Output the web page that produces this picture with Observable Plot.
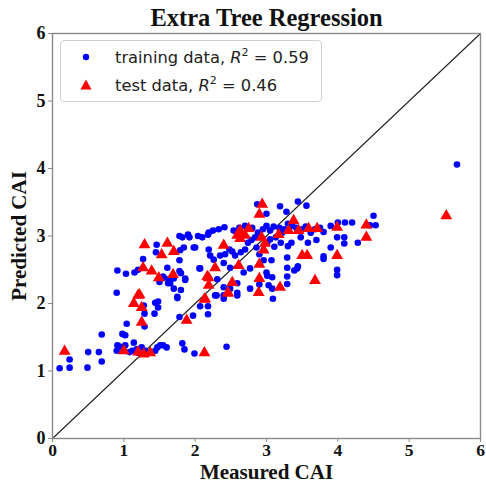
<!DOCTYPE html>
<html>
<head>
<meta charset="utf-8">
<script src="https://cdn.jsdelivr.net/npm/d3@7"></script>
<script src="https://cdn.jsdelivr.net/npm/@observablehq/plot@0.6"></script>
<style>
  html, body { margin: 0; padding: 0; background: #fff; }
  #wrap { position: relative; width: 486px; height: 487px; }
  #legend {
    position: absolute; left: 60px; top: 40px; width: 262px; height: 62px;
    border: 1px solid #d0d0d0; border-radius: 4px; background: rgba(255,255,255,0.85);
    font-family: "DejaVu Sans", sans-serif; font-size: 16.3px; color: #222; box-sizing: border-box;
  }
  .row { position: absolute; left: 0; height: 24px; display: flex; align-items: center; white-space: nowrap; }
  .row svg { margin-left: 18px; margin-right: 22px; }
  sup { font-size: 11px; vertical-align: 7px; line-height: 0; }
</style>
</head>
<body>
<div id="wrap">
  <div id="chart"></div>
  <div id="legend">
    <div class="row" style="top:4px"><svg width="14" height="14"><circle cx="7" cy="7" r="3.2" fill="#0000ff"/></svg><span>training data, <i>R</i><sup>2</sup> = 0.59</span></div>
    <div class="row" style="top:32px"><svg width="14" height="14"><path d="M7,1.5 L12.6,11.5 L1.4,11.5 Z" fill="#ff0000"/></svg><span>test data, <i>R</i><sup>2</sup> = 0.46</span></div>
  </div>
</div>
<script>
const title = "Extra Tree Regression";
const xLabel = "Measured CAI";
const yLabel = "Predicted CAI";
const axisTicks = [0, 1, 2, 3, 4, 5, 6];
const identityLine = [0, 6];

// training data: [measured, predicted]
const trainData = [
  [0.1,1.04],[0.24,1.05],[0.24,1.17],[0.49,1.05],[0.5,1.28],[0.65,1.28],[0.69,1.14],[0.69,1.54],
  [0.9,1.3],[0.91,1.38],[0.95,1.36],[1.0,1.3],[1.02,1.38],[0.98,1.55],[1.02,1.53],[1.04,1.7],
  [1.08,1.28],[1.12,1.3],[1.14,1.42],[1.18,1.32],[1.2,1.27],[1.25,1.35],[1.3,1.3],[1.44,1.3],
  [1.51,1.38],[1.47,1.35],[1.6,1.35],[1.55,1.38],[1.82,1.41],[1.85,1.32],[1.99,1.26],[2.44,1.36],
  [1.29,1.66],[1.29,1.85],[1.28,1.97],[1.43,1.85],[1.44,2.01],[1.48,2.03],[1.48,1.94],[1.75,2.08],
  [1.78,1.8],[1.97,1.82],[2.07,1.96],[2.18,1.84],[2.18,1.96],[2.3,2.12],[2.4,2.24],[2.49,2.22],
  [2.59,2.16],[2.4,2.07],
  [0.9,2.16],[0.91,2.49],[1.03,2.44],[1.15,2.46],[1.2,2.5],[1.27,2.66],[1.46,2.87],[1.45,2.76],
  [1.79,2.79],[1.78,2.64],[1.61,2.53],[1.78,2.48],[1.86,2.35],[1.5,2.38],[1.56,2.38],[1.63,2.36],
  [1.7,2.22],[1.8,2.2],[1.75,2.1],[1.55,2.4],[1.5,2.32],[1.62,2.3],[1.98,2.83],[1.78,3.0],
  [1.9,3.02],[2.04,3.0],[2.18,3.02],[2.06,2.52],[1.65,2.3],[1.7,2.37],
  [1.82,2.98],[1.92,2.98],[2.1,2.98],[2.19,3.05],[2.25,3.08],[2.33,3.1],[2.41,3.13],[2.54,3.08],
  [1.84,2.83],[2.0,2.83],[2.19,2.8],[2.21,2.71],[2.26,2.65],[2.35,2.71],[2.42,2.73],[2.48,2.8],
  [2.52,2.77],[2.56,2.71],[2.64,2.76],[2.7,2.8],[2.74,2.9],[2.79,2.94],[2.86,2.83],[2.84,2.98],
  [2.9,2.73],[2.96,2.64],[3.07,2.64],[3.01,2.9],[3.05,2.95],[3.11,2.84],[3.13,2.98],[3.2,2.9],
  [3.22,3.05],[3.29,2.68],[3.3,2.85],[3.35,2.9],[3.43,2.52],[3.29,2.53],[3.08,2.39],[3.0,2.46],
  [2.77,2.52],[2.68,2.46],[2.49,2.53],[2.4,2.6],[2.07,2.52],[1.86,2.37],[1.8,2.45],[2.31,2.36],
  [2.59,2.3],[2.77,2.22],[3.03,2.27],[2.28,2.12],[2.4,2.12],[2.59,2.12],[3.09,2.07],[3.08,2.22],
  [3.29,2.29],[2.9,2.28],[3.39,2.49],[3.44,2.55],[3.01,2.41],[3.29,2.4],
  [2.62,3.12],[2.7,3.15],[2.8,3.12],[2.88,3.05],[2.95,3.1],[3.0,3.15],[3.05,3.08],[3.1,3.14],
  [3.18,3.12],[3.25,3.1],[3.3,3.18],[3.36,3.15],[3.42,3.12],[3.5,3.1],[3.55,3.14],[3.62,3.05],
  [3.68,3.1],[3.75,3.12],[3.8,3.06],[3.48,2.98],[3.58,2.9],[3.7,2.94],[3.8,2.66],[3.8,2.7],
  [3.9,2.83],[3.99,2.98],[4.09,2.89],[4.09,2.98],[4.28,2.9],[4.0,3.2],[4.1,3.2],[4.2,3.2],
  [4.45,3.16],[4.53,3.16],[4.5,3.3],[3.99,2.5],[3.99,2.42],[3.9,3.15],
  [2.87,3.47],[3.19,3.44],[3.44,3.51],[3.56,3.45],[3.28,3.36],[3.0,3.33],
  [5.67,4.06]
];

// test data: [measured, predicted]
const testData = [
  [0.17,1.29],[1.0,1.3],[1.2,1.28],[1.28,1.25],[1.37,1.27],[1.25,1.72],[1.14,2.0],[1.2,2.12],
  [1.25,1.94],[1.88,1.75],[2.13,1.27],[2.13,2.06],[2.46,2.15],
  [1.29,2.87],[1.61,2.89],[1.7,2.77],[1.53,2.72],[1.27,2.53],[1.39,2.48],[1.49,2.38],[1.69,2.43],
  [1.22,2.13],[2.17,2.4],
  [2.94,3.47],[2.9,3.32],[2.63,3.08],[2.75,3.11],[2.7,3.01],[2.59,3.01],[2.4,2.86],[2.93,2.98],
  [2.98,2.89],[2.96,2.79],[3.17,3.02],[3.38,3.23],[3.31,3.08],[3.45,3.08],[3.59,3.11],[3.71,3.11],
  [3.99,3.13],[4.4,3.16],[4.4,2.98],[3.99,2.71],[3.5,2.71],[3.57,2.71],[2.61,2.56],[2.9,2.58],
  [2.28,2.53],[2.19,2.38],[2.9,2.37],[2.52,2.31],[2.19,2.27],[2.89,2.16],[3.19,2.24],[2.46,2.16],
  [2.14,2.07],[3.68,2.34],[5.52,3.3],[2.63,2.96]
];

const serif = "'Liberation Serif', 'Times New Roman', serif";
const gray = "#8a8a8a";

const chart = Plot.plot({
  width: 486,
  height: 487,
  marginLeft: 52,
  marginRight: 6,
  marginTop: 33,
  marginBottom: 49,
  style: { fontFamily: serif, background: "#fff", color: "#111", overflow: "visible" },
  x: { domain: [0, 6] },
  y: { domain: [0, 6] },
  marks: [
    Plot.axisX({ ticks: axisTicks, tickFormat: d3.format("d"), tickSize: 4, tickPadding: 1, stroke: gray, label: null,
                 fontSize: 17.5, fontWeight: "bold", fill: "#111" }),
    Plot.axisY({ ticks: axisTicks, tickFormat: d3.format("d"), tickSize: 4, tickPadding: 3, stroke: gray, label: null,
                 fontSize: 18, fontWeight: "bold", fill: "#111" }),
    Plot.line(identityLine.map(v => [v, v]), { x: d => d[0], y: d => d[1], stroke: "#222", strokeWidth: 1.1 }),
    Plot.dot(trainData, { x: d => d[0], y: d => d[1], r: 3.3, fill: "#0000ff", stroke: "none" }),
    Plot.dot(testData, { x: d => d[0], y: d => d[1], symbol: "triangle", r: 4.4, fill: "#ff0000", stroke: "none" }),
    Plot.frame({ stroke: gray, strokeWidth: 1.4 }),
    Plot.text([title], { frameAnchor: "top", lineAnchor: "middle", dy: -15, text: d => d, fontSize: 24.5, fontWeight: "bold", fill: "#111" }),
    Plot.text([xLabel], { frameAnchor: "bottom", lineAnchor: "middle", dy: 34, text: d => d, fontSize: 21, fontWeight: "bold", fill: "#111" }),
    Plot.text([yLabel], { frameAnchor: "left", lineAnchor: "middle", textAnchor: "middle", dx: -33, rotate: -90, text: d => d, fontSize: 21, fontWeight: "bold", fill: "#111" })
  ]
});
document.getElementById("chart").appendChild(chart);
</script>
</body>
</html>
